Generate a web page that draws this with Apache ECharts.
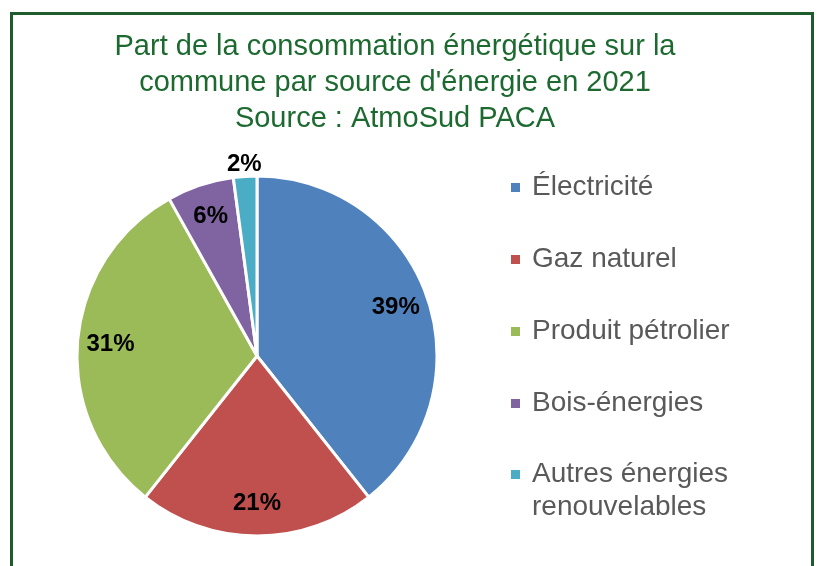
<!DOCTYPE html>
<html>
<head>
<meta charset="utf-8">
<script src="https://cdn.jsdelivr.net/npm/echarts@6/dist/echarts.min.js"></script>
<style>
  html, body { margin: 0; padding: 0; background: #fff; overflow: hidden; }
  #frame { position: absolute; left: 10px; top: 12px; width: 798px; height: 600px; border: 3px solid #1f5c2b; }
  #chart { position: absolute; left: 0; top: 0; width: 824px; height: 566px; }
</style>
</head>
<body>
<div id="frame"></div>
<div id="chart"></div>
<script>
const sources = ['Électricité', 'Gaz naturel', 'Produit pétrolier', 'Bois-énergies', 'Autres énergies renouvelables'];
const shares = [39.3, 21.3, 31.2, 6.0, 2.1];
const sliceColors = ['#4f81bd', '#c0504d', '#9bbb59', '#8064a2', '#4bacc6'];

const cx = 257, cy = 356, r = 180;
const chart = echarts.init(document.getElementById('chart'));

const legendBase = {
  orient: 'vertical',
  left: 509,
  height: 520,
  padding: 0,
  icon: 'rect',
  itemWidth: 11,
  itemHeight: 11,
  itemGap: 39,
  // the long name wraps; the leading blank line keeps the icon on the first line
  formatter: name => name.length > 20 ? '\n' + name.replace(' renouvelables', '\nrenouvelables') : name,
  textStyle: { fontFamily: 'Liberation Sans', fontSize: 28, color: '#595959', lineHeight: 33, padding: [0, 0, 0, 6] },
};

const option = {
  color: sliceColors,
  title: {
    text: "Part de la consommation énergétique sur la\ncommune par source d'énergie en 2021\nSource : AtmoSud PACA",
    left: 390,
    top: 24,
    textAlign: 'center',
    textStyle: { fontFamily: 'Liberation Sans', fontSize: 29, fontWeight: 'normal', color: '#1d6a31', lineHeight: 36 },
  },
  legend: [
    Object.assign({}, legendBase, { top: 171, data: sources.slice(0, 4) }),
    Object.assign({}, legendBase, { top: 425, data: sources.slice(4) }),
  ],
  series: [
    {
      type: 'pie',
      center: [cx, cy],
      radius: [0, r],
      startAngle: 90,
      clockwise: true,
      animation: false,
      itemStyle: { borderColor: '#fff', borderWidth: 3 },
      label: {
        position: 'inside',
        formatter: p => Math.round(p.percent) + '%',
        fontFamily: 'Liberation Sans',
        fontSize: 24,
        fontWeight: 'bold',
        color: '#000',
      },
      labelLine: { show: false },
      labelLayout: p => {
        const k = p.dataIndex === shares.length - 1 ? 1.07 : 0.58;
        const lx = p.labelRect.x + p.labelRect.width / 2;
        const ly = p.labelRect.y + p.labelRect.height / 2;
        return { dx: (lx - cx) * k, dy: (ly - cy) * k };
      },
      data: sources.map((name, i) => ({ name, value: shares[i] })),
    },
  ],
};

chart.setOption(option);
</script>
</body>
</html>
